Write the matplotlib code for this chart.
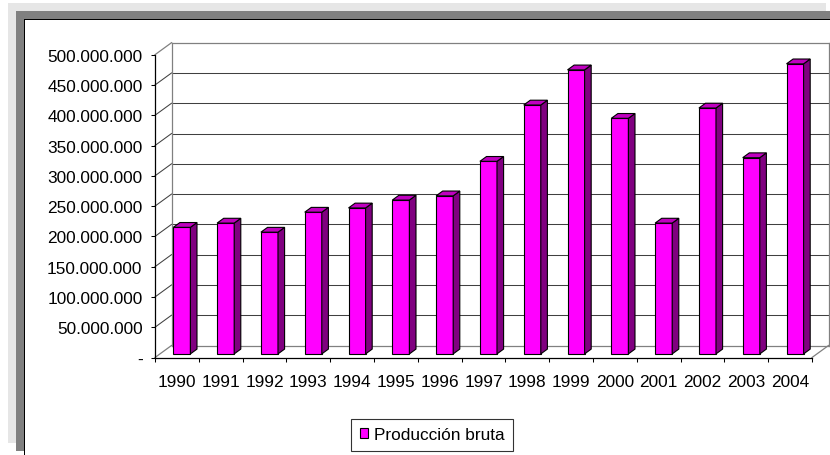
import numpy as np
import matplotlib
matplotlib.use("Agg")
import matplotlib.pyplot as plt
from matplotlib.patches import Rectangle, Polygon

plt.rcParams['font.family'] = ['Liberation Sans', 'DejaVu Sans']

# ---------------------------------------------------------------------
# data
# ---------------------------------------------------------------------
years = ['1990', '1991', '1992', '1993', '1994', '1995', '1996', '1997',
         '1998', '1999', '2000', '2001', '2002', '2003', '2004']
produccion = [209e6, 216e6, 201e6, 234e6, 241e6, 254e6, 261e6, 318e6,
              411e6, 469e6, 389e6, 216e6, 406e6, 324e6, 479e6]
series_name = 'Producción bruta'
y_ticks = [0, 50e6, 100e6, 150e6, 200e6, 250e6, 300e6, 350e6, 400e6, 450e6, 500e6]

W, H = 830, 456
FACE = '#ff00ff'
SIDE = '#800080'
TOP = '#c000c0'
FS = 12.4

fig = plt.figure(figsize=(W / 100, H / 100), dpi=100)
fig.patch.set_facecolor('white')


def px_rect(x0, y0, x1, y1, color, z):
    # rectangle given in pixel coords, origin at top-left
    fig.add_artist(Rectangle((x0 / W, 1 - y1 / H), (x1 - x0) / W, (y1 - y0) / H,
                             transform=fig.transFigure, facecolor=color,
                             edgecolor='none', zorder=z))


# frame / shadow bands like the spreadsheet export
px_rect(8, 4, 826, 444, '#e6e6e6', -5)
px_rect(16, 12, 830, 452, '#808080', -4)
px_rect(24, 20, 830, 460, 'black', -3)
px_rect(25, 21, 830, 460, 'white', -2)

# front plane of the 3d box
left, right, bottom, top = 155, 812, 358.5, 55.7
ax = fig.add_axes([left / W, 1 - bottom / H, (right - left) / W, (bottom - top) / H])
ax.patch.set_visible(False)
n = len(years)
ax.set_xlim(-0.5, n - 0.5)
ax.set_ylim(0, 500e6)

# depth offset of the back wall, in data units
DX = 16.5 / ((right - left) / n)
DY = 12 / ((bottom - top) / 500e6)

grid_kw = dict(color='#404040', lw=0.75, clip_on=False, zorder=1)
wall_kw = dict(color='#808080', lw=0.9, clip_on=False, zorder=1)
for v in y_ticks:
    kw = wall_kw if v in (0, 500e6) else grid_kw
    ax.plot([-0.5, -0.5 + DX], [v, v + DY], **kw)
    ax.plot([-0.5 + DX, n - 0.5 + DX], [v + DY, v + DY], **kw)
ax.plot([n - 0.5, n - 0.5 + DX], [0, DY], **wall_kw)
ax.plot([-0.5 + DX, -0.5 + DX], [DY, 500e6 + DY], **wall_kw)
ax.plot([n - 0.5 + DX, n - 0.5 + DX], [DY, 500e6 + DY], **wall_kw)

# bars: front face via ax.bar, side and top as polygons
bw = 0.39
d0, d1 = 0.3, 0.7
xs = np.arange(n) + d0 * DX
base = d0 * DY
ax.bar(xs, produccion, width=bw, bottom=base, color=FACE, edgecolor='black',
       linewidth=0.8, zorder=3, label=series_name, clip_on=False)
ddx, ddy = (d1 - d0) * DX, (d1 - d0) * DY
for x, v in zip(xs, produccion):
    xl, xr, yt = x - bw / 2, x + bw / 2, base + v
    ax.add_patch(Polygon([(xr, base), (xr + ddx, base + ddy), (xr + ddx, yt + ddy), (xr, yt)],
                         closed=True, facecolor=SIDE, edgecolor='black', lw=0.8,
                         zorder=3, clip_on=False))
    ax.add_patch(Polygon([(xl, yt), (xr, yt), (xr + ddx, yt + ddy), (xl + ddx, yt + ddy)],
                         closed=True, facecolor=TOP, edgecolor='black', lw=0.8,
                         zorder=3, clip_on=False))

# axes styling
for s in ('top', 'right'):
    ax.spines[s].set_visible(False)
for s in ('left', 'bottom'):
    ax.spines[s].set_color('black')
    ax.spines[s].set_linewidth(0.9)
    ax.spines[s].set_zorder(4)

ax.set_yticks(y_ticks)
ax.set_yticklabels(['-' if v == 0 else f'{int(v):,}'.replace(',', '.') for v in y_ticks])
ax.tick_params(axis='y', direction='out', length=3, width=0.75, pad=6,
               labelsize=FS, colors='black')

ax.set_xticks(np.arange(n))
ax.set_xticklabels(years)
ax.set_xticks(np.arange(n + 1) - 0.5, minor=True)
ax.tick_params(axis='x', which='major', length=0, pad=12, labelsize=FS)
ax.tick_params(axis='x', which='minor', direction='out', length=3, width=0.75)

leg = fig.legend(loc='center', bbox_to_anchor=(432 / W, 1 - 436 / H),
                 fontsize=FS, frameon=True, fancybox=False, edgecolor='black',
                 handlelength=0.5, handleheight=0.5, handletextpad=0.3,
                 borderpad=0.5, borderaxespad=0)
leg.get_frame().set_linewidth(0.8)
leg.get_frame().set_facecolor('white')

fig.savefig('out.png', dpi=100, facecolor='white')
